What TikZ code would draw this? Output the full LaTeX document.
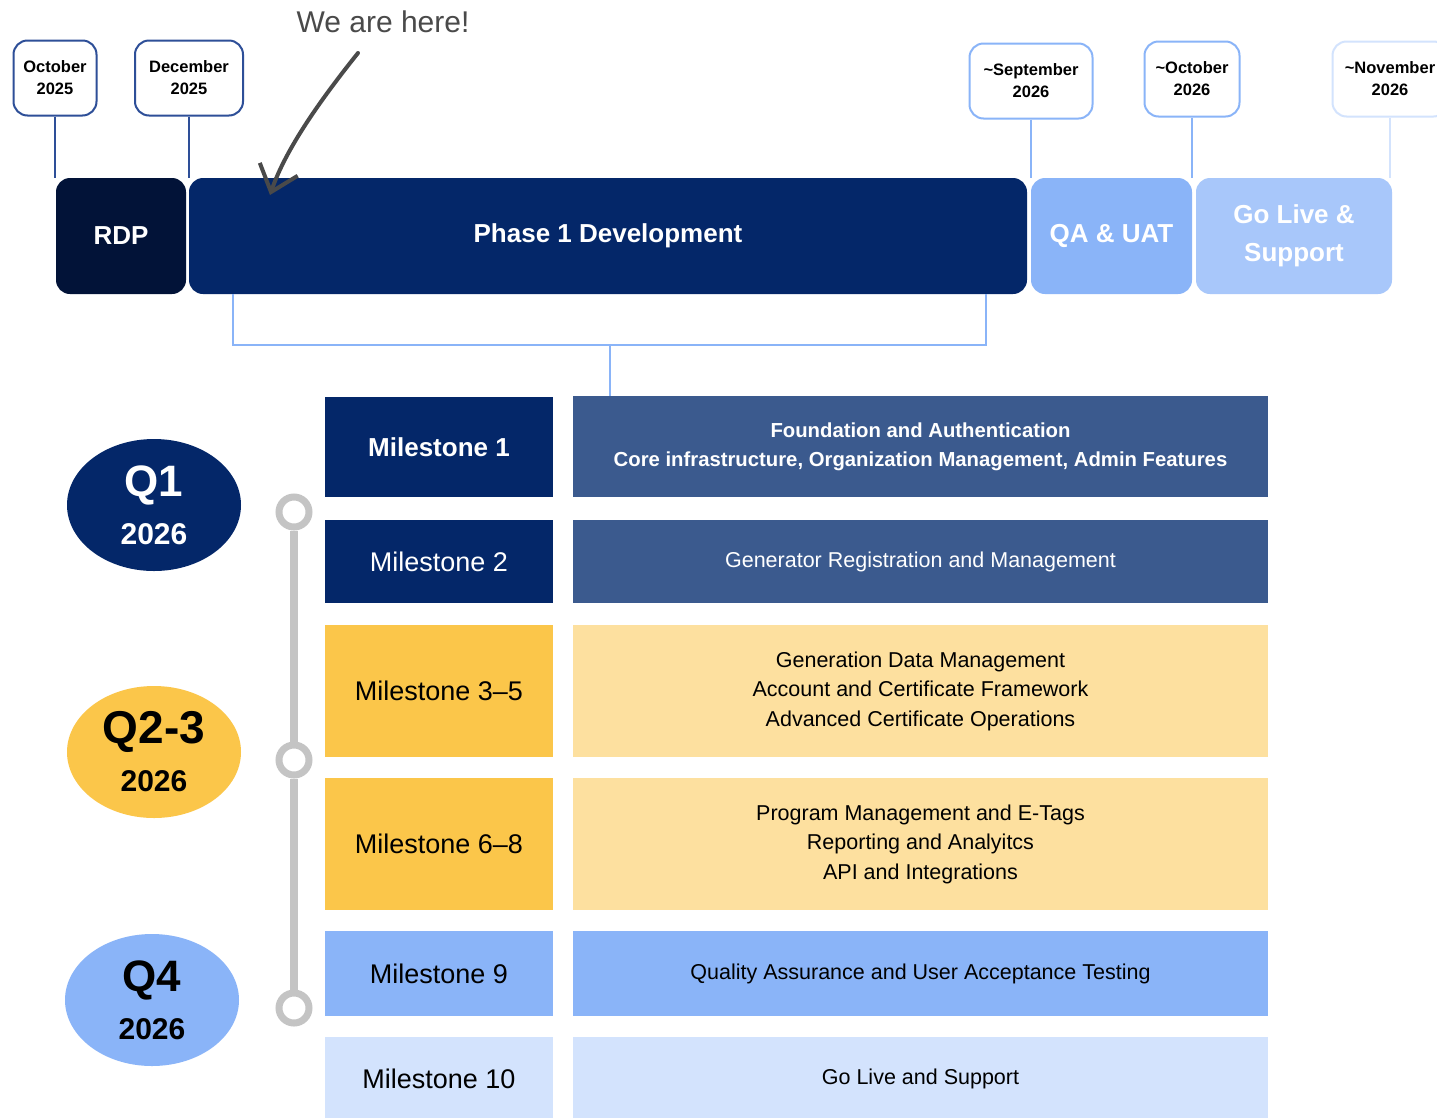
\documentclass[tikz,border=0pt]{standalone}
\usepackage{fontspec}
\setmainfont{Liberation Sans}
\usetikzlibrary{shapes.geometric,arrows.meta}

\definecolor{navy}{RGB}{4,39,105}
\definecolor{rdpnavy}{RGB}{2,19,56}
\definecolor{slateblue}{RGB}{59,90,142}
\definecolor{sun}{RGB}{251,198,74}
\definecolor{paleyellow}{RGB}{253,224,159}
\definecolor{skyblue}{RGB}{138,180,248}
\definecolor{liveblue}{RGB}{168,199,250}
\definecolor{paleblue}{RGB}{211,227,253}
\definecolor{lineblue}{RGB}{46,79,152}
\definecolor{tlgray}{RGB}{196,196,196}
\definecolor{pengray}{RGB}{74,74,74}

\begin{document}
\begin{tikzpicture}[x=1pt,y=-1pt,
  phasebar/.style={rounded corners=14pt, inner sep=0pt, minimum height=116pt, text=white, align=center, font=\bfseries\fontsize{26}{38}\selectfont},
  datebox/.style={draw, fill=white, rounded corners=14pt, line width=2pt, minimum height=75pt, inner sep=0pt, align=center, font=\bfseries\fontsize{16.5}{22}\selectfont},
  dateline/.style={line width=2.5pt},
  mbox/.style={inner sep=0pt, minimum width=228pt, font=\fontsize{27}{32}\selectfont},
  dbox/.style={inner sep=0pt, minimum width=695pt, align=center, font=\fontsize{21.5}{29.5}\selectfont},
  quarter/.style={ellipse, inner sep=0pt, minimum width=174pt, minimum height=132pt, align=center, font=\bfseries\fontsize{30}{42}\selectfont},
  knob/.style={circle, draw=tlgray, fill=white, line width=7pt, minimum size=30pt, inner sep=0pt},
  >={Straight Barb[length=24pt,width=40pt]}
]
\fill[white] (0,0) rectangle (1437,1117);
\useasboundingbox (0,0) rectangle (1437,1117);

% dates
\node[datebox, draw=lineblue, minimum width=83pt] (oct25) at (55,78) {October\\2025};
\node[datebox, draw=lineblue, minimum width=108pt] (dec25) at (189,78) {December\\2025};
\node[datebox, draw=skyblue, minimum width=123pt] (sep26) at (1031,81) {\textasciitilde September\\2026};
\node[datebox, draw=skyblue, minimum width=95pt] (oct26) at (1192,79) {\textasciitilde October\\2026};
\node[datebox, draw=paleblue, minimum width=115pt] (nov26) at (1390,79) {\textasciitilde November\\2026};

% phases
\node[phasebar, fill=rdpnavy, minimum width=130pt] (rdp) at (121,236) {RDP};
\node[phasebar, fill=navy, minimum width=838pt] (phase) at (608,236) {Phase 1 Development};
\node[phasebar, fill=skyblue, minimum width=161pt] (qa) at (1111.5,236) {QA \& UAT};
\node[phasebar, fill=liveblue, minimum width=196pt] (golive) at (1294,236) {Go Live \&\\Support};

\draw[dateline, lineblue] (oct25.south) -- (oct25.south |- rdp.north);
\draw[dateline, lineblue] (dec25.south) -- (dec25.south |- phase.north);
\draw[dateline, skyblue] (sep26.south) -- (sep26.south |- qa.north);
\draw[dateline, skyblue] (oct26.south) -- (oct26.south |- qa.north);
\draw[dateline, paleblue] (nov26.south) -- (nov26.south |- golive.north);

% we are here
\node[text=pengray, font=\fontsize{30}{36}\selectfont] (here) at (383,22) {We are here!};
\coordinate (herestart) at (358,53);
\coordinate (hereend) at (270,195);
\draw[->, pengray, line width=4pt, line cap=round] (herestart) .. controls (322,98) and (286,148) .. (hereend);

% milestones
\node[mbox, fill=navy, text=white, minimum height=100pt, font=\bfseries\fontsize{26}{32}\selectfont] (m1) at (439,447) {Milestone 1};
\node[mbox, fill=navy, text=white, minimum height=83pt] (m2) at (439,561.5) {Milestone 2};
\node[mbox, fill=sun, minimum height=132pt] (m35) at (439,691) {Milestone 3--5};
\node[mbox, fill=sun, minimum height=132pt] (m68) at (439,844) {Milestone 6--8};
\node[mbox, fill=skyblue, minimum height=85pt] (m9) at (439,973.5) {Milestone 9};
\node[mbox, fill=paleblue, minimum height=84pt] (m10) at (439,1079) {Milestone 10};

\node[dbox, fill=slateblue, text=white, minimum height=101pt, font=\bfseries\fontsize{20.3}{29}\selectfont] (d1) at (920.5,446.5) {Foundation and Authentication\\Core infrastructure, Organization Management, Admin Features};
\node[dbox, fill=slateblue, text=white, minimum height=83pt] (d2) at (920.5,561.5) {Generator Registration and Management};
\node[dbox, fill=paleyellow, minimum height=132pt] (d35) at (920.5,691) {Generation Data Management\\Account and Certificate Framework\\Advanced Certificate Operations};
\node[dbox, fill=paleyellow, minimum height=132pt] (d68) at (920.5,844) {Program Management and E-Tags\\Reporting and Analyitcs\\API and Integrations};
\node[dbox, fill=skyblue, minimum height=85pt] (d9) at (920.5,973.5) {Quality Assurance and User Acceptance Testing};
\node[dbox, fill=paleblue, minimum height=84pt] (d10) at (920.5,1079) {Go Live and Support};

% bracket under phase 1
\coordinate (brl) at (233,345);
\coordinate (brr) at (986,345);
\coordinate (brm) at (610,345);
\draw[dateline, skyblue] (brl |- phase.south) -- (brl) -- (brr) -- (brr |- phase.south);
\draw[dateline, skyblue] (brm) -- (brm |- d1.north);

% quarters
\node[quarter, fill=navy, text=white] (q1) at (154,505) {{\fontsize{44}{44}\selectfont Q1}\\[6pt]2026};
\node[quarter, fill=sun] (q23) at (154,752) {{\fontsize{46}{46}\selectfont Q2-3}\\[6pt]2026};
\node[quarter, fill=skyblue] (q4) at (152,1000) {{\fontsize{44}{44}\selectfont Q4}\\[6pt]2026};

% timeline
\node[knob] (k1) at (294,512) {};
\node[knob] (k2) at (294,760) {};
\node[knob] (k3) at (294,1008) {};
\draw[tlgray, line width=8pt] (k1) -- (k2);
\draw[tlgray, line width=8pt] (k2) -- (k3);
\end{tikzpicture}
\end{document}
